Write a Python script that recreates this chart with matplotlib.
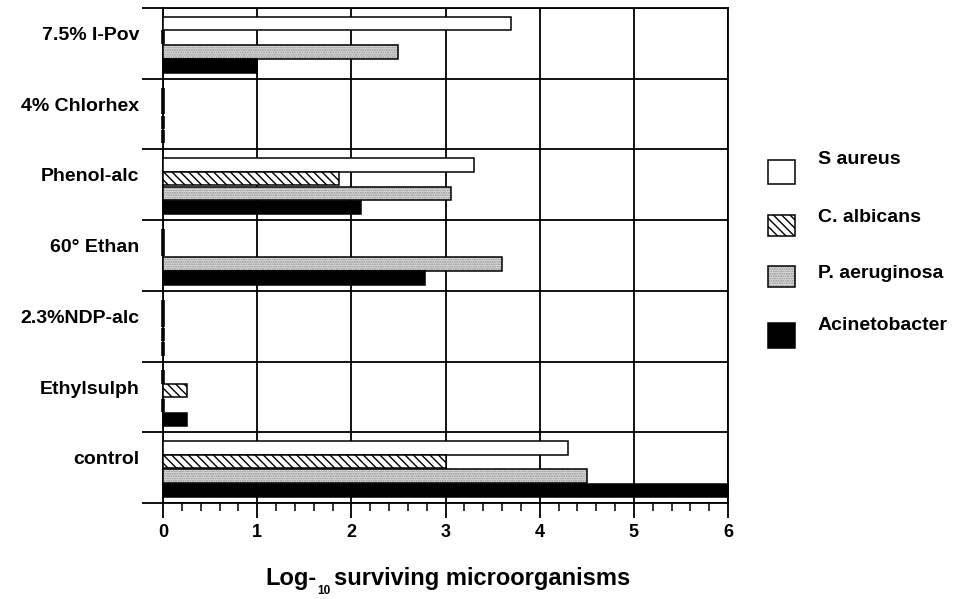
import matplotlib
matplotlib.use("Agg")
import matplotlib.pyplot as plt
from matplotlib.patches import Rectangle
import numpy as np

plt.rcParams['font.family'] = ['Liberation Sans', 'DejaVu Sans']
plt.rcParams['font.weight'] = 'bold'
plt.rcParams['hatch.linewidth'] = 1.0

categories = ["7.5% I-Pov", "4% Chlorhex", "Phenol-alc", "60° Ethan",
              "2.3%NDP-alc", "Ethylsulph", "control"]
series_names = ["S aureus", "C. albicans", "P. aeruginosa", "Acinetobacter"]
s_aureus = [3.7, 0.0, 3.3, 0.0, 0.0, 0.0, 4.3]
c_albicans = [0.0, 0.0, 1.87, 0.0, 0.0, 0.26, 3.0]
p_aeruginosa = [2.5, 0.0, 3.06, 3.6, 0.0, 0.0, 4.5]
acinetobacter = [1.0, 0.0, 2.1, 2.78, 0.0, 0.26, 6.0]
x_ticks = [0, 1, 2, 3, 4, 5, 6]

series = [s_aureus, c_albicans, p_aeruginosa, acinetobacter]
offsets = [-0.28, -0.09, 0.12, 0.32]
bar_h = 0.19

W, H = 962, 599
fig = plt.figure(figsize=(W / 100, H / 100), dpi=100)
ax = fig.add_axes([163 / W, 1 - 503 / H, (728 - 163) / W, (503 - 8) / H])

y = np.arange(len(categories))

styles = [
    dict(facecolor='white', hatch=None),
    dict(facecolor='white', hatch='\\\\\\\\'),
    dict(facecolor='#e4e4e4', hatch='.......'),
    dict(facecolor='black', hatch=None),
]

for vals, off, st in zip(series, offsets, styles):
    lws = [2.6 if v == 0 else 1.1 for v in vals]
    if st['facecolor'] == '#e4e4e4':
        ax.barh(y + off, vals, height=bar_h, left=0, facecolor='#e4e4e4',
                edgecolor='#8a8a8a', hatch=st['hatch'], linewidth=0, zorder=3)
        ax.barh(y + off, vals, height=bar_h, left=0, fill=False,
                edgecolor='black', linewidth=lws, zorder=4, clip_on=False)
    else:
        ax.barh(y + off, vals, height=bar_h, left=0, facecolor=st['facecolor'],
                edgecolor='black', hatch=st['hatch'], linewidth=lws, zorder=3,
                clip_on=False)

ax.set_xlim(0, 6)
ax.set_ylim(len(categories) - 0.5, -0.5)

# category boundaries as major y ticks + grid
ax.set_yticks(np.arange(-0.5, len(categories), 1.0))
ax.set_yticklabels([])
ax.set_yticks(y - 0.14, minor=True)
ax.set_yticklabels(categories, minor=True, fontsize=14, fontweight='bold')
ax.tick_params(axis='y', which='minor', length=0, pad=17)
ax.tick_params(axis='y', which='major', length=15, width=1.3, direction='out')

ax.set_xticks(x_ticks)
ax.set_xticklabels([str(t) for t in x_ticks], fontsize=13, fontweight='bold')
ax.set_xticks(np.arange(0, 6.01, 0.2), minor=True)
ax.tick_params(axis='x', which='major', length=11, width=1.3, direction='out', pad=4)
ax.tick_params(axis='x', which='minor', length=6, width=1.1, direction='out')

ax.grid(True, which='major', color='black', linewidth=1.3, zorder=1)
ax.set_axisbelow(True)
for sp in ax.spines.values():
    sp.set_linewidth(1.3)

# x-axis title with a small subscript, assembled piecewise
def fx(px):
    return px / W

def fy(py):
    return 1 - py / H

fig.canvas.draw()
renderer = fig.canvas.get_renderer()
t1 = fig.text(fx(265), fy(585), "Log-", fontsize=17, fontweight='bold',
              ha='left', va='baseline')
bb = t1.get_window_extent(renderer)
t2 = fig.text(bb.x1 / W + 1 / W, fy(594), "10", fontsize=8.5, fontweight='bold',
              ha='left', va='baseline')
bb2 = t2.get_window_extent(renderer)
t3 = fig.text(bb2.x1 / W + 4 / W, fy(585), "surviving microorganisms", fontsize=17,
              fontweight='bold', ha='left', va='baseline')

# legend drawn at the right
legend_styles = [
    dict(facecolor='white', hatch=None, edgecolor='black'),
    dict(facecolor='white', hatch='\\\\\\\\', edgecolor='black'),
    dict(facecolor='#e4e4e4', hatch='.......', edgecolor='#8a8a8a'),
    dict(facecolor='black', hatch=None, edgecolor='black'),
]
patch_top = [160, 215, 266, 323]
patch_hgt = [24, 21, 21, 25]
text_y = [160, 217, 274, 325]
for name, st, pt, ph, ty in zip(series_names, legend_styles, patch_top, patch_hgt, text_y):
    r = Rectangle((fx(768), fy(pt + ph)), 27 / W, ph / H, transform=fig.transFigure,
                  facecolor=st['facecolor'], edgecolor=st['edgecolor'],
                  hatch=st['hatch'], linewidth=0 if st['hatch'] == '.......' else 1.1)
    fig.add_artist(r)
    if st['hatch'] == '.......':
        fig.add_artist(Rectangle((fx(768), fy(pt + ph)), 27 / W, ph / H,
                                 transform=fig.transFigure, fill=False,
                                 edgecolor='black', linewidth=1.1))
    fig.text(fx(818), fy(ty), name, fontsize=14, fontweight='bold',
             ha='left', va='center')

fig.savefig('out.png', dpi=100)
